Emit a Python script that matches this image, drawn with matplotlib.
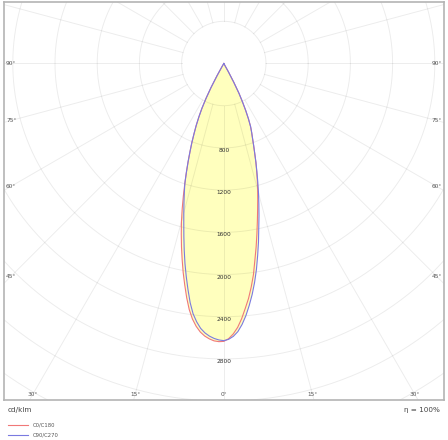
import numpy as np
import matplotlib.pyplot as plt

# --- Luminous intensity distribution (cd/klm), gamma measured from nadir ---
gamma = list(range(0, 32)) + [90]
c180 = [2634, 2637, 2631, 2614, 2590, 2555, 2505, 2440, 2355, 2248,
        2132, 2018, 1899, 1783, 1666, 1551, 1430, 1310, 1195, 1088,
        988, 893, 808, 721, 643, 559, 474, 372, 258, 130, 30, 0, 0]
c0 = [2633, 2609, 2565, 2505, 2425, 2331, 2240, 2134, 2020, 1885,
      1765, 1645, 1530, 1425, 1330, 1241, 1152, 1065, 985, 900,
      827, 760, 705, 650, 575, 491, 401, 317, 200, 90, 0, 0, 0]
c270 = [2627, 2621, 2608, 2588, 2560, 2520, 2462, 2390, 2290, 2170,
        2050, 1930, 1805, 1683, 1568, 1465, 1370, 1280, 1195, 1088,
        988, 893, 808, 721, 643, 559, 474, 372, 258, 130, 30, 0, 0]
c90 = [2627, 2615, 2588, 2545, 2480, 2400, 2306, 2206, 2096, 1977,
       1848, 1723, 1594, 1483, 1373, 1271, 1169, 1073, 985, 900,
       827, 760, 705, 650, 575, 491, 401, 317, 200, 90, 0, 0, 0]

ring_values = [800, 1200, 1600, 2000, 2400, 2800]
angle_labels = [0, 15, 30, 45, 60, 75, 90]
legend_names = ["C0/C180", "C90/C270"]

RED = "#f07878"
BLUE = "#7a7ae0"
FILL = "#ffffbe"

# pixel geometry of the diagram (448x440 canvas)
W, H = 448, 440
cx, cy = 223.8, 63.5
scale = 0.1055  # px per cd/klm
left_px, right_px, top_px, bottom_px = 4, 444, 2, 400


def to_xy(angles, values, side):
    a = np.radians(np.asarray(angles, dtype=float))
    v = np.asarray(values, dtype=float)
    return side * v * np.sin(a), -v * np.cos(a)


def curve(left_vals, right_vals):
    xl, yl = to_xy(gamma, left_vals, -1)
    xr, yr = to_xy(gamma, right_vals, 1)
    return np.concatenate([xl[::-1], xr[1:]]), np.concatenate([yl[::-1], yr[1:]])


fig = plt.figure(figsize=(W / 100, H / 100), dpi=100)
ax = fig.add_axes([left_px / W, 1 - bottom_px / H,
                   (right_px - left_px) / W, (bottom_px - top_px) / H])
ax.set_xlim((left_px - cx) / scale, (right_px - cx) / scale)
ax.set_ylim(-(bottom_px - cy) / scale, (cy - top_px) / scale)
ax.set_xticks([])
ax.set_yticks([])
for sp in ax.spines.values():
    sp.set_color("#b4b4b4")
    sp.set_linewidth(1.2)

# --- filled distribution (union of both planes) ---
x1, y1 = curve(c180, c0)
x2, y2 = curve(c270, c90)
ax.fill(x1, y1, color=FILL, lw=0, zorder=1)
ax.fill(x2, y2, color=FILL, lw=0, zorder=1)

# --- grid: rings and spokes, drawn semi-transparent over the fill ---
t = np.linspace(0, 2 * np.pi, 400)
for r in range(400, 4400, 400):
    ax.plot(r * np.cos(t), r * np.sin(t), color="black", alpha=0.075, lw=0.7, zorder=2)
for deg in range(0, 360, 15):
    a = np.radians(deg)
    ax.plot([400 * np.sin(a), 5000 * np.sin(a)], [-400 * np.cos(a), -5000 * np.cos(a)],
            color="black", alpha=0.075, lw=0.7, zorder=2)

# --- curves ---
ax.plot(x1, y1, color=RED, lw=0.8, zorder=4)
ax.plot(x2, y2, color=BLUE, lw=0.8, zorder=4)

# --- ring labels ---
for v in ring_values:
    ax.text(0, -v - 25, str(v), ha="center", va="center", fontsize=4.2,
            color="#333333", zorder=5)

# --- angle labels ---
ybot = -(394 - cy) / scale
for g in angle_labels:
    if g <= 30:
        xs = ybot * np.tan(np.radians(g))
        for s in ([1] if g == 0 else [-1, 1]):
            ax.text(-s * xs, ybot, f"{g}°", ha="center", va="center",
                    fontsize=4.2, color="#555555", zorder=5)
    if g >= 45:
        d = (cx - 11) / scale
        yv = -d / np.tan(np.radians(g)) if g < 90 else 0
        ax.text((6 - cx) / scale, yv, f"{g}°", ha="left", va="center",
                fontsize=4.2, color="#555555", zorder=5)
        ax.text((442 - cx) / scale, yv, f"{g}°", ha="right", va="center",
                fontsize=4.2, color="#555555", zorder=5)

# --- footer texts ---
fig.text(8 / W, 1 - 410 / H, "cd/klm", ha="left", va="center", fontsize=5.2,
         color="#444444")
fig.text(440 / W, 1 - 410 / H, "η = 100%", ha="right", va="center", fontsize=5.2,
         color="#444444")
for i, (name, col) in enumerate(zip(legend_names, [RED, BLUE])):
    yy = 1 - (424.5 + 10 * i) / H
    fig.add_artist(plt.Line2D([8 / W, 28 / W], [yy, yy], color=col, lw=0.8))
    fig.text(33 / W, yy, name, ha="left", va="center", fontsize=3.8,
             color="#555555")

fig.savefig("out.png", dpi=100)
